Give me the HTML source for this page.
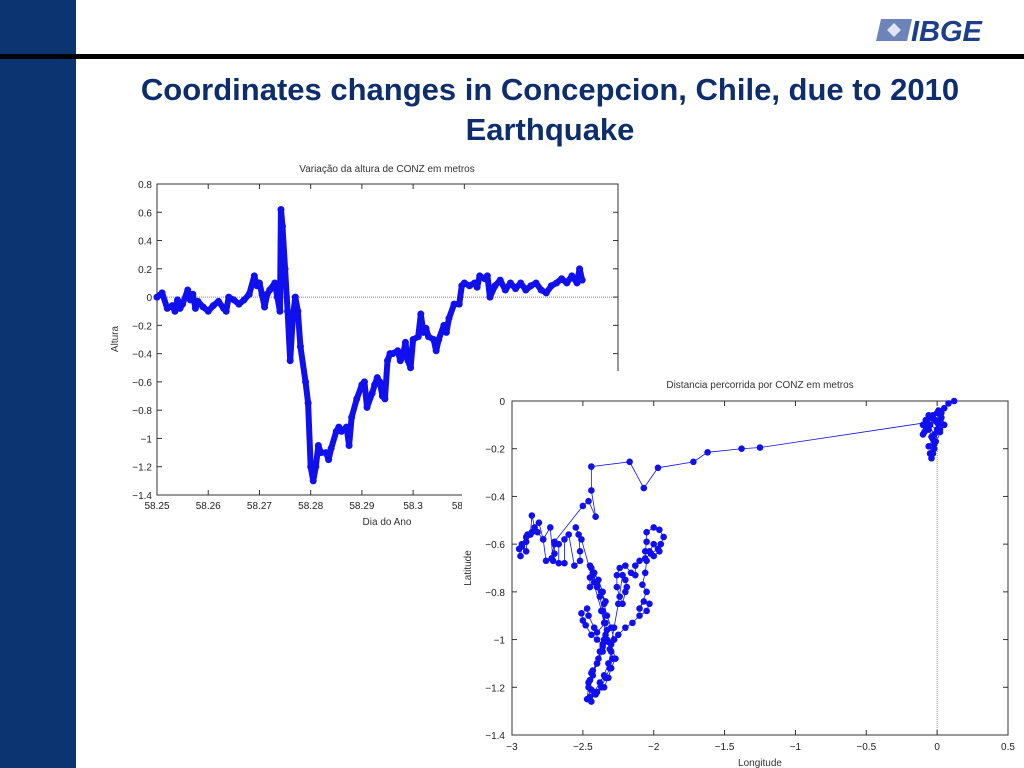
<!DOCTYPE html>
<html><head><meta charset="utf-8">
<style>
body{margin:0;width:1024px;height:768px;overflow:hidden;background:#fff;font-family:"Liberation Sans",sans-serif;position:relative}
#side{position:absolute;left:0;top:0;width:76px;height:768px;background:#0b3470}
#rule{position:absolute;left:0;top:54px;width:1024px;height:5px;background:#000}
#title{position:absolute;left:80px;top:70px;width:940px;text-align:center;font-weight:bold;font-size:31px;line-height:40px;color:#0d2d6c}
#logo{position:absolute;left:874px;top:14px}
svg text{font-family:"Liberation Sans",sans-serif}
</style></head><body>
<div id="side"></div>
<div id="rule"></div>
<div id="logo">
<svg width="130" height="32"><polygon points="7,5 38,5 33,27 2,27" fill="#6d84b8"/><polygon points="20,9 27,16 20,23 13,16" fill="#dfe5f2"/><text x="37" y="27" font-size="29" font-weight="bold" font-style="italic" fill="#1c3f8a">IBGE</text></svg>
</div>
<div id="title">Coordinates changes in Concepcion, Chile, due to 2010<br>Earthquake</div>
<svg id="c1" width="1024" height="768" style="position:absolute;left:0;top:0"></svg>
<script>
const dayX=[58.25,58.251,58.252,58.253,58.2535,58.254,58.2545,58.255,58.256,58.2565,58.257,58.2575,58.258,58.259,58.26,58.261,58.262,58.263,58.2635,58.264,58.265,58.266,58.267,58.268,58.269,58.2695,58.27,58.2705,58.271,58.2715,58.272,58.273,58.2735,58.274,58.2742,58.2745,58.275,58.2755,58.276,58.2765,58.277,58.2775,58.278,58.279,58.2795,58.28,58.2805,58.281,58.2815,58.282,58.283,58.2835,58.284,58.285,58.2855,58.286,58.287,58.2875,58.288,58.289,58.29,58.2905,58.291,58.292,58.2925,58.293,58.2935,58.294,58.2945,58.295,58.2955,58.296,58.297,58.2975,58.298,58.2985,58.299,58.2995,58.3,58.301,58.3015,58.302,58.3025,58.303,58.304,58.3045,58.305,58.306,58.3065,58.307,58.308,58.309,58.3095,58.31,58.311,58.312,58.3125,58.313,58.314,58.3145,58.315,58.316,58.317,58.318,58.319,58.32,58.321,58.322,58.323,58.324,58.325,58.326,58.327,58.328,58.329,58.33,58.331,58.332,58.3325,58.333];
const altura=[0,0.03,-0.08,-0.06,-0.1,-0.02,-0.08,-0.05,0.05,-0.02,0.02,-0.08,-0.03,-0.07,-0.1,-0.06,-0.03,-0.08,-0.1,0,-0.02,-0.05,-0.02,0.02,0.15,0.08,0.1,0.02,-0.07,0.02,0.05,0.1,0,-0.1,0.62,0.5,0.2,-0.1,-0.45,-0.15,0,-0.1,-0.35,-0.6,-0.75,-1.2,-1.3,-1.2,-1.05,-1.1,-1.1,-1.15,-1.07,-0.95,-0.92,-0.95,-0.92,-1.05,-0.85,-0.72,-0.62,-0.6,-0.78,-0.68,-0.62,-0.57,-0.6,-0.7,-0.72,-0.45,-0.4,-0.4,-0.38,-0.45,-0.42,-0.32,-0.45,-0.5,-0.3,-0.28,-0.12,-0.25,-0.22,-0.28,-0.3,-0.38,-0.3,-0.2,-0.25,-0.15,-0.05,-0.05,0.08,0.1,0.08,0.1,0.07,0.15,0.13,0.15,0.0,0.08,0.12,0.05,0.1,0.06,0.1,0.05,0.08,0.1,0.05,0.03,0.08,0.1,0.13,0.1,0.15,0.1,0.2,0.12,0.08,0.03];
const xTicks1=[58.25,58.26,58.27,58.28,58.29,58.3,58.31];
const yTicks1=[0.8,0.6,0.4,0.2,0,-0.2,-0.4,-0.6,-0.8,-1,-1.2,-1.4];
const lon=[0.12,0.08,0.05,0,-0.03,0.02,-0.05,0,-0.04,-0.02,-0.05,-0.04,-0.02,0.02,0.05,0.03,-0.02,-0.08,-0.1,-0.07,-0.08,-0.06,-0.03,-0.06,-0.03,-0.01,0.01,0.03,0.01,-0.04,-0.09,-0.1,-0.06,0,0.02,-0.02,-0.07,-1.25,-1.38,-1.62,-1.72,-1.97,-2.07,-2.17,-2.44,-2.44,-2.41,-2.46,-2.5,-2.7,-2.72,-2.76,-2.78,-2.81,-2.84,-2.86,-2.87,-2.9,-2.89,-2.9,-2.93,-2.94,-2.95,-2.93,-2.9,-2.86,-2.82,-2.78,-2.73,-2.71,-2.72,-2.7,-2.7,-2.67,-2.67,-2.63,-2.63,-2.6,-2.56,-2.52,-2.52,-2.53,-2.55,-2.51,-2.33,-2.35,-2.38,-2.4,-2.43,-2.46,-2.47,-2.44,-2.42,-2.38,-2.35,-2.32,-2.3,-2.28,-2.3,-2.33,-2.35,-2.36,-2.39,-2.42,-2.44,-2.45,-2.45,-2.42,-2.43,-2.4,-2.38,-2.36,-2.34,-2.4,-2.42,-2.46,-2.47,-2.51,-2.5,-2.48,-2.44,-2.4,-2.36,-2.32,-2.28,-2.25,-2.2,-2.15,-2.1,-2.05,-2.03,-2.07,-2.1,-2.05,-2.08,-2.06,-2.05,-2.06,-2.05,-2.05,-2.0,-1.96,-1.93,-1.95,-1.96,-2.0,-2.03,-2.0,-1.97,-2.02,-2.06,-2.1,-2.13,-2.13,-2.16,-2.2,-2.24,-2.26,-2.26,-2.24,-2.22,-2.2,-2.19,-2.2,-2.22,-2.25,-2.28,-2.3,-2.27,-2.3,-2.32,-2.35,-2.4,-2.45,-2.46,-2.44,-2.4,-2.36,-2.33,-2.31,-2.29,-2.31,-2.34,-2.37,-2.41,-2.44,-2.45,-2.43,-2.39,-2.36,-2.34,-2.35,-2.37,-2.34,-2.37,-2.4,-2.43,-2.45,-2.44];
const lat=[0,-0.01,-0.03,-0.05,-0.06,-0.08,-0.1,-0.12,-0.15,-0.18,-0.22,-0.24,-0.2,-0.13,-0.1,-0.05,-0.08,-0.11,-0.14,-0.1,-0.08,-0.12,-0.16,-0.19,-0.22,-0.17,-0.1,-0.07,-0.04,-0.07,-0.13,-0.1,-0.06,-0.09,-0.12,-0.14,-0.09,-0.195,-0.2,-0.215,-0.255,-0.28,-0.365,-0.255,-0.275,-0.375,-0.485,-0.42,-0.44,-0.59,-0.66,-0.67,-0.58,-0.51,-0.53,-0.48,-0.56,-0.59,-0.56,-0.63,-0.61,-0.65,-0.62,-0.6,-0.57,-0.55,-0.55,-0.58,-0.53,-0.67,-0.66,-0.64,-0.6,-0.6,-0.68,-0.68,-0.58,-0.56,-0.69,-0.67,-0.63,-0.56,-0.53,-0.58,-0.96,-1.0,-1.05,-1.1,-1.15,-1.2,-1.25,-1.26,-1.22,-1.18,-1.15,-1.1,-1.05,-1.0,-0.95,-0.9,-0.85,-0.8,-0.75,-0.72,-0.7,-0.74,-0.78,-0.76,-0.72,-0.78,-0.82,-0.88,-0.93,-0.97,-0.95,-0.9,-0.87,-0.89,-0.92,-0.94,-0.98,-1.0,-1.02,-1.01,-1.0,-0.98,-0.95,-0.93,-0.9,-0.88,-0.85,-0.84,-0.87,-0.8,-0.77,-0.72,-0.67,-0.63,-0.59,-0.55,-0.53,-0.54,-0.57,-0.6,-0.63,-0.65,-0.63,-0.6,-0.62,-0.64,-0.66,-0.67,-0.69,-0.73,-0.72,-0.69,-0.7,-0.73,-0.78,-0.82,-0.85,-0.8,-0.78,-0.75,-0.73,-0.85,-0.95,-1.02,-1.08,-1.12,-1.16,-1.2,-1.22,-1.24,-1.18,-1.14,-1.1,-1.05,-1.0,-1.04,-1.08,-1.12,-1.16,-1.2,-1.23,-1.21,-1.17,-1.13,-1.08,-1.03,-0.98,-0.93,-0.88,-0.84,-0.8,-0.77,-0.73,-0.69];
const xTicks2=[-3,-2.5,-2,-1.5,-1,-0.5,0,0.5];
const yTicks2=[0,-0.2,-0.4,-0.6,-0.8,-1,-1.2,-1.4];

const NS='http://www.w3.org/2000/svg';
const svg=document.getElementById('c1');
function mk(t,a,p){const e=document.createElementNS(NS,t);for(const k in a)e.setAttribute(k,a[k]);(p||svg).appendChild(e);return e;}
function fmt(v){return String(+v.toFixed(3)).replace('-','\u2212');}

// Chart 1
const L1=157,R1=618,T1=184,B1=495;
const sx1=v=>L1+(v-58.25)/0.09*(R1-L1);
const sy1=v=>T1+(0.8-v)/2.2*(B1-T1);
const n1=Math.min(dayX.length,altura.length);
const g1=mk('g',{});


mk('text',{x:387,y:172,'font-size':10,'text-anchor':'middle',fill:'#333'},g1).textContent='Variação da altura de CONZ em metros';
mk('rect',{x:L1,y:T1,width:R1-L1,height:B1-T1,fill:'none',stroke:'#333','stroke-width':1},g1);
mk('line',{x1:L1,x2:R1,y1:sy1(0),y2:sy1(0),stroke:'#888','stroke-dasharray':'1,1'},g1);
yTicks1.forEach(v=>{const y=sy1(v);mk('line',{x1:L1,x2:L1+5,y1:y,y2:y,stroke:'#333'},g1);mk('line',{x1:R1,x2:R1-5,y1:y,y2:y,stroke:'#333'},g1);
 const t=mk('text',{x:L1-5,y:y+4,'font-size':10,'text-anchor':'end',fill:'#222'},g1);t.textContent=fmt(v);});
xTicks1.forEach(v=>{const x=sx1(v);mk('line',{x1:x,x2:x,y1:B1,y2:B1-5,stroke:'#333'},g1);mk('line',{x1:x,x2:x,y1:T1,y2:T1+5,stroke:'#333'},g1);
 const t=mk('text',{x:x,y:B1+14,'font-size':10,'text-anchor':'middle',fill:'#222'},g1);t.textContent=fmt(v);});
mk('text',{x:387,y:525,'font-size':10,'text-anchor':'middle',fill:'#333'},g1).textContent='Dia do Ano';
mk('text',{x:0,y:0,'font-size':10,'text-anchor':'middle',fill:'#333',transform:'translate(118,339) rotate(-90)'},g1).textContent='Altura';
let pts1=[];for(let i=0;i<n1;i++)pts1.push(sx1(dayX[i])+','+sy1(altura[i]));
const pl=mk('polyline',{points:pts1.join(' '),fill:'none',stroke:'#1010ee','stroke-width':6,'stroke-linejoin':'round'},g1);

for(let i=0;i<n1;i++){const c=mk('circle',{cx:sx1(dayX[i]),cy:sy1(altura[i]),r:3.5,fill:'#1010ee'},g1);}

// Chart 2
const g2=mk('g',{});


mk('rect',{x:462,y:371,width:562,height:397,fill:'#fff'},g2);
const L2=512,R2=1008,T2=401,B2=735;
const sx2=v=>L2+(v+3)/3.5*(R2-L2);
const sy2=v=>T2+(-v)/1.4*(B2-T2);
const n2=Math.min(lon.length,lat.length);
mk('text',{x:760,y:388,'font-size':10,'text-anchor':'middle',fill:'#333'},g2).textContent='Distancia percorrida por CONZ em metros';
mk('rect',{x:L2,y:T2,width:R2-L2,height:B2-T2,fill:'none',stroke:'#333'},g2);
mk('line',{x1:sx2(0),x2:sx2(0),y1:T2,y2:B2,stroke:'#888','stroke-dasharray':'1,1'},g2);
yTicks2.forEach(v=>{const y=sy2(v);mk('line',{x1:L2,x2:L2+5,y1:y,y2:y,stroke:'#333'},g2);mk('line',{x1:R2,x2:R2-5,y1:y,y2:y,stroke:'#333'},g2);
 const t=mk('text',{x:L2-7,y:y+4,'font-size':10,'text-anchor':'end',fill:'#222'},g2);t.textContent=fmt(v);});
xTicks2.forEach(v=>{const x=sx2(v);mk('line',{x1:x,x2:x,y1:B2,y2:B2-5,stroke:'#333'},g2);mk('line',{x1:x,x2:x,y1:T2,y2:T2+5,stroke:'#333'},g2);
 const t=mk('text',{x:x,y:B2+15,'font-size':10,'text-anchor':'middle',fill:'#222'},g2);t.textContent=fmt(v);});
mk('text',{x:760,y:766,'font-size':10,'text-anchor':'middle',fill:'#333'},g2).textContent='Longitude';
mk('text',{x:0,y:0,'font-size':10,'text-anchor':'middle',fill:'#333',transform:'translate(471,568) rotate(-90)'},g2).textContent='Latitude';
let pts2=[];for(let i=0;i<n2;i++)pts2.push(sx2(lon[i])+','+sy2(lat[i]));
const pl2=mk('polyline',{points:pts2.join(' '),fill:'none',stroke:'#1010ee','stroke-width':0.8},g2);

for(let i=0;i<n2;i++){const c=mk('circle',{cx:sx2(lon[i]),cy:sy2(lat[i]),r:3.3,fill:'#1010ee'},g2);}
</script>
</body></html>
